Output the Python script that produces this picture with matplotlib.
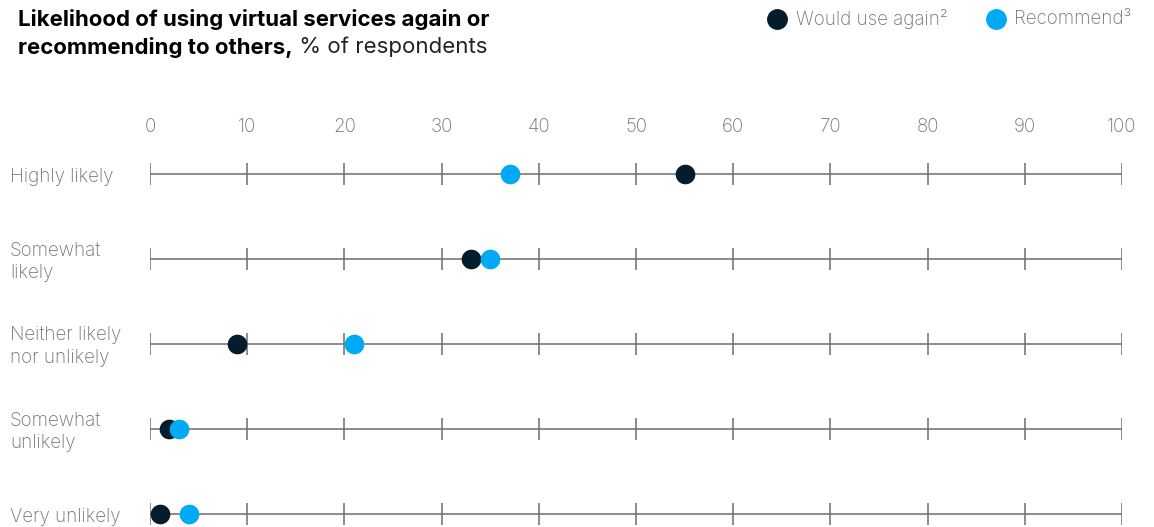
import matplotlib.pyplot as plt
import numpy as np

plt.rcParams['font.family'] = ['Inter', 'DejaVu Sans']

categories = ["Highly likely", "Somewhat\nlikely", "Neither likely\nnor unlikely",
              "Somewhat\nunlikely", "Very unlikely"]
would_use_again = [55, 33, 9, 2, 1]
recommend = [37, 35, 21, 3, 4]
x_ticks = list(range(0, 101, 10))

DARK = "#051C2C"
LIGHT = "#00A9F4"
GRID = "#6E6E6E"
LABEL = "#737373"

W, H = 1154, 527
fig = plt.figure(figsize=(W / 100, H / 100), dpi=100)
ax_top_px, ax_bot_px = 100, 527
ax = fig.add_axes([150 / W, 1 - ax_bot_px / H, (1122 - 150) / W, (ax_bot_px - ax_top_px) / H])
ax.set_xlim(0, 100)
row_px = 85
ax.set_ylim(4 + (527 - 514) / row_px, -(174 - ax_top_px) / row_px)
ax.axis('off')

rows = np.arange(len(categories))
half = 11 / row_px
for r in rows:
    ax.hlines(r, 0, 100, color=GRID, lw=1.1, zorder=1)
    ax.vlines(x_ticks, r - half, r + half, color=GRID, lw=1.1, zorder=1)

ax.scatter(would_use_again, rows, s=200, color=DARK, zorder=3, linewidths=0)
ax.scatter(recommend, rows, s=200, color=LIGHT, zorder=4, linewidths=0)

# tick labels along the top
for t in x_ticks:
    ax.text(t, -(174 - 127) / row_px, str(t), ha='center', va='center',
            fontsize=13.5, color=LABEL, fontweight='light')

# row labels
trans = ax.get_yaxis_transform()
for r, lab in zip(rows, categories):
    ax.text(-140 / 972, r + 0.03, lab, transform=trans,
            ha='left', va='center', fontsize=13.5, color=LABEL,
            linespacing=1.3, fontweight='light')

# title
fig.text(18 / W, 1 - 19 / H, "Likelihood of using virtual services again or",
         ha='left', va='center', fontsize=16, fontweight='bold', color='black')
t2 = fig.text(18 / W, 1 - 47 / H, "recommending to others,",
              ha='left', va='center', fontsize=16, fontweight='bold', color='black')
ax.annotate(" % of respondents", xy=(1, 0.5), xycoords=t2, ha='left', va='center',
            fontsize=16, color='#222222', fontweight='normal', annotation_clip=False)

# legend
ly = 1 - 19 / H
fig.add_artist(plt.Line2D([777 / W], [ly], marker='o', markersize=14, color=DARK,
                          linestyle='none', transform=fig.transFigure))
fig.text(796 / W, ly, "Would use again²", ha='left', va='center', fontsize=13.5,
         color=LABEL, fontweight='light')
fig.add_artist(plt.Line2D([996 / W], [ly], marker='o', markersize=14, color=LIGHT,
                          linestyle='none', transform=fig.transFigure))
fig.text(1014 / W, ly, "Recommend³", ha='left', va='center', fontsize=13.5,
         color=LABEL, fontweight='light')

fig.savefig("out.png", dpi=100)
